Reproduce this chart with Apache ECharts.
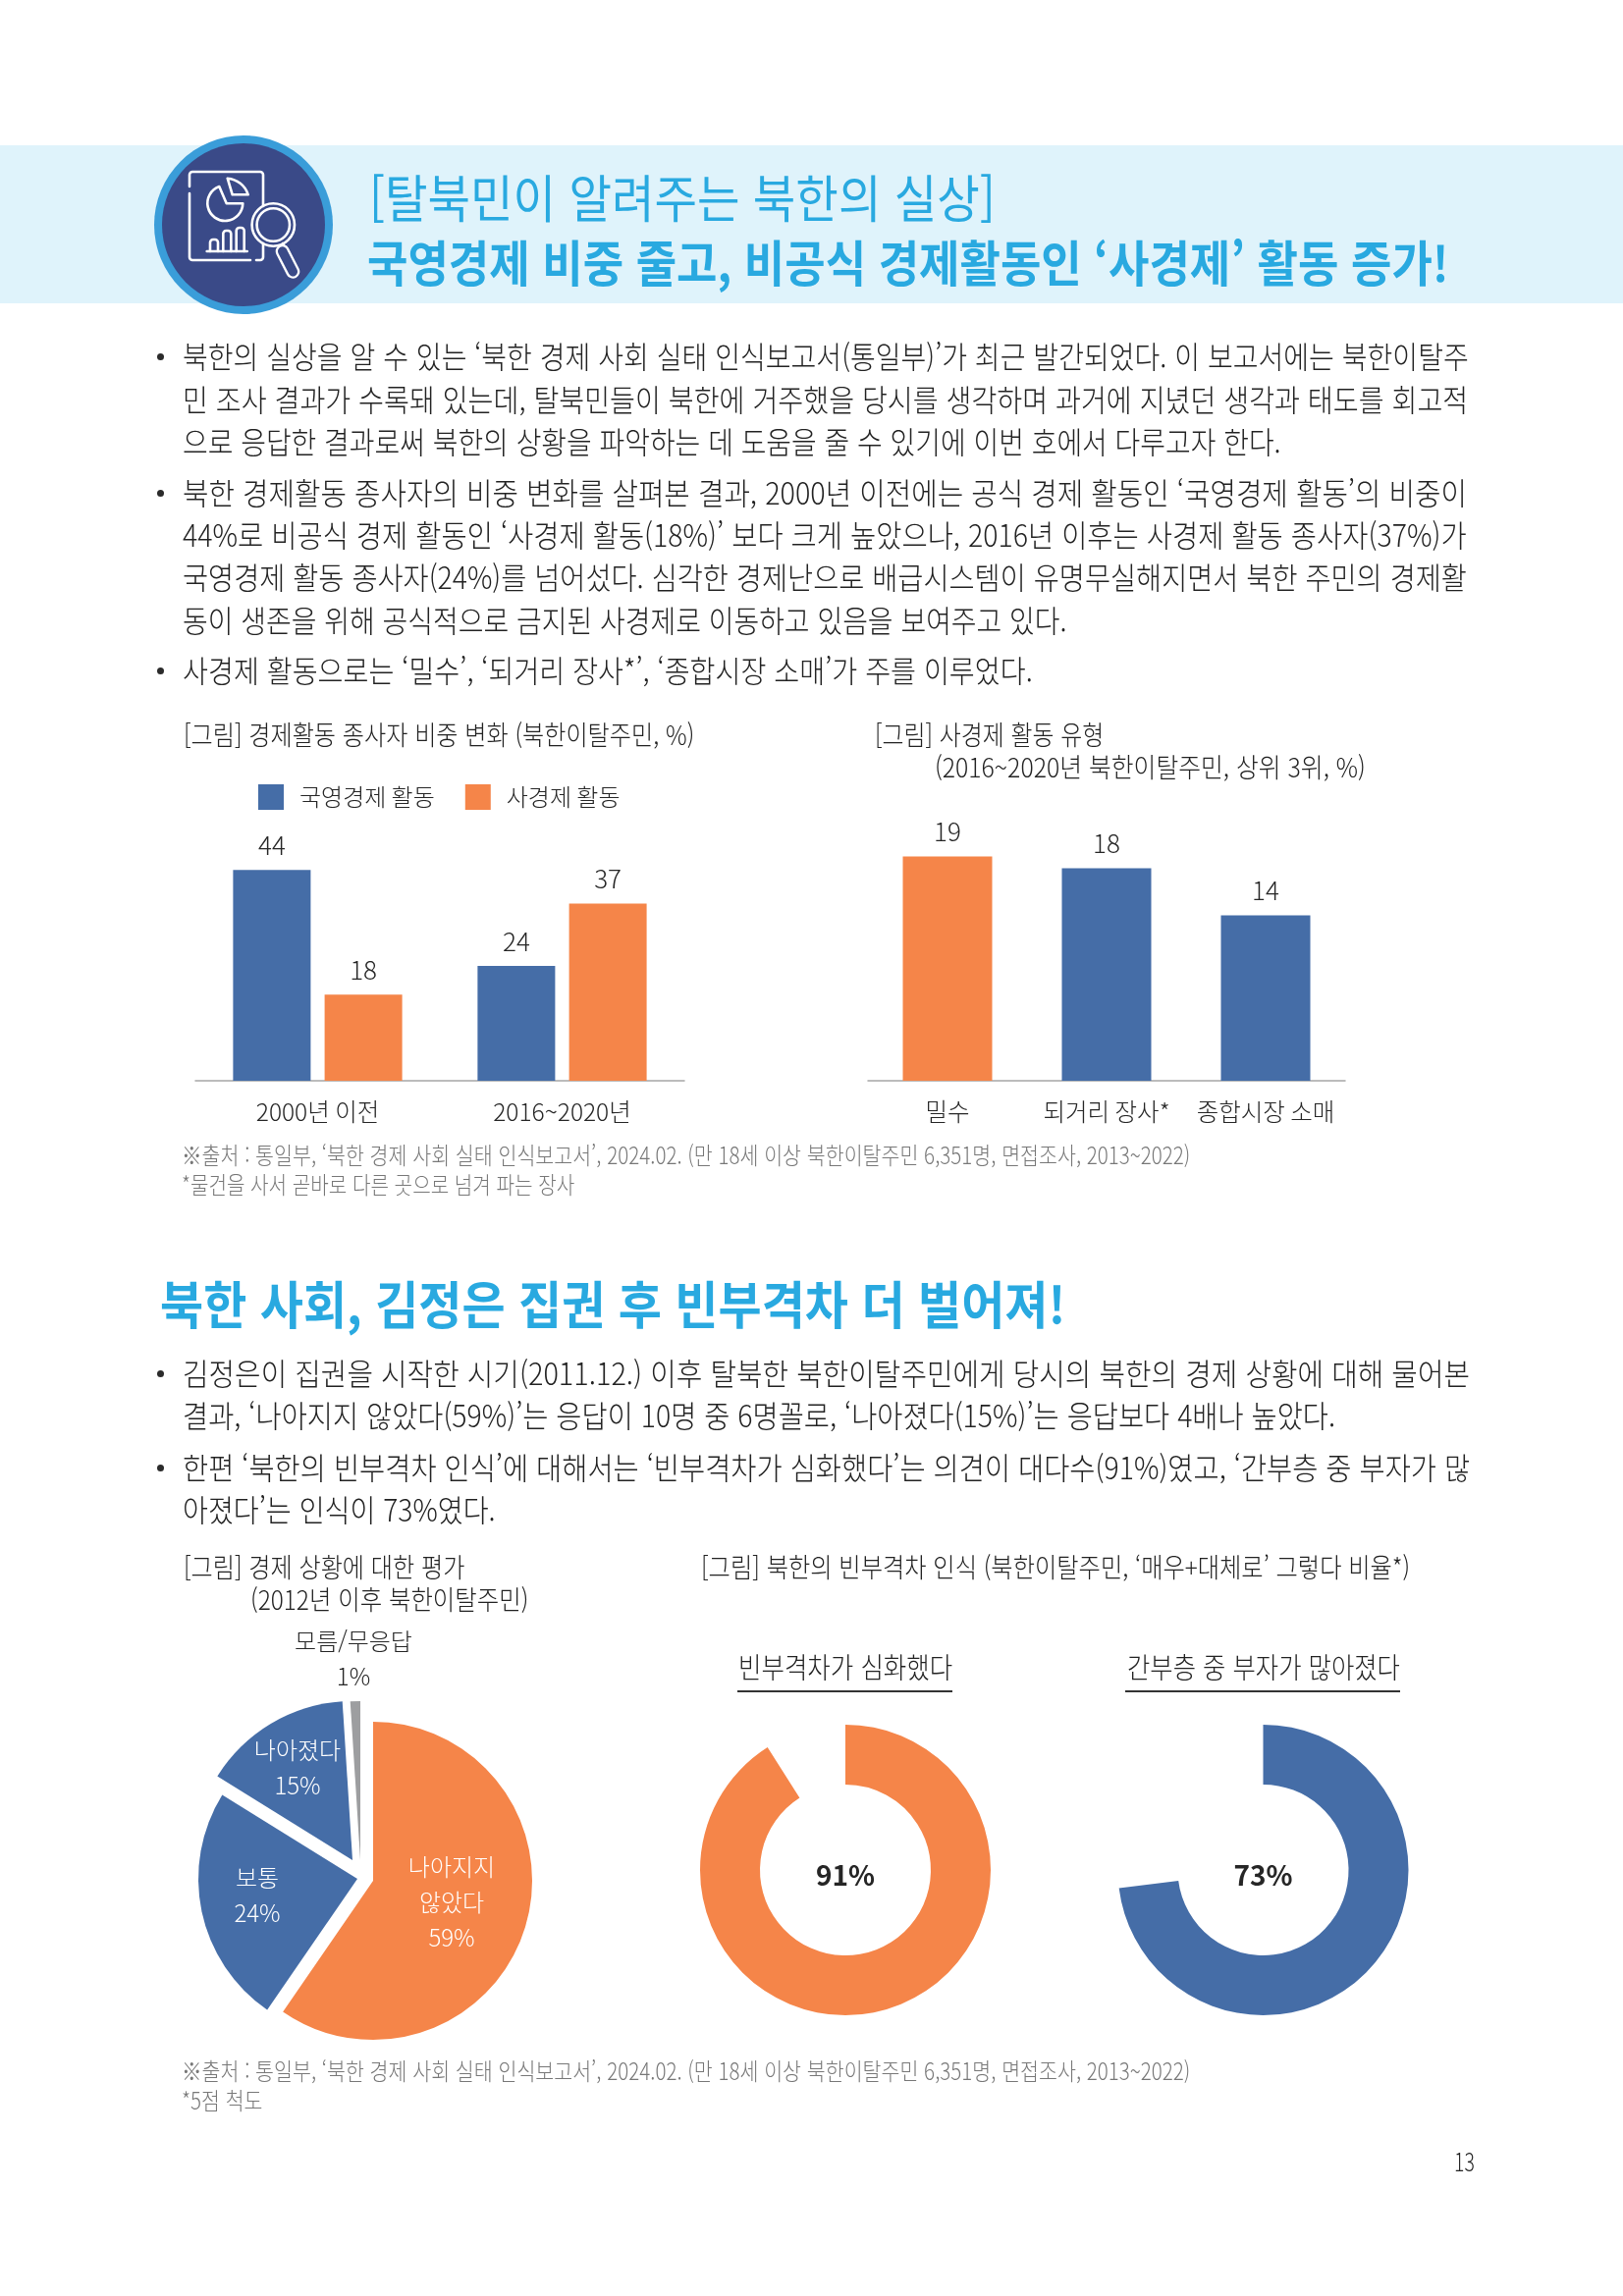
<!DOCTYPE html>
<html lang="ko">
<head>
<meta charset="utf-8">
<title>북한의 실상</title>
<script src="https://cdn.jsdelivr.net/npm/echarts@6/dist/echarts.min.js"></script>
<style>
  html, body { margin: 0; background: #fff; }
  #page { position: relative; width: 1653px; height: 2339px; overflow: hidden; font-family: "Noto Sans CJK KR", sans-serif; }
  #band { position: absolute; left: 0; top: 148px; width: 1653px; height: 161px; background: #dff3fb; }
  #icon { position: absolute; left: 0; top: 0; }
  #chart { position: absolute; left: 0; top: 0; width: 1653px; height: 2339px; }
  .line { position: absolute; white-space: pre; line-height: 1; transform-origin: left center; font-weight: 300; color: #222; }
  .rule { position: absolute; height: 2px; background: #333; }
  .dot { position: absolute; width: 7px; height: 7px; border-radius: 50%; background: #2b2b2b; }
</style>
</head>
<body>
<div id="page">
  <div id="band"></div>
  <svg id="icon" width="1653" height="340" viewBox="0 0 1653 340">
    <circle cx="248" cy="229" r="91" fill="#3a9dd9"/>
    <circle cx="248" cy="229" r="83" fill="#3a4a88"/>
    <g fill="none" stroke="#fff" stroke-width="2.6" stroke-linecap="round" stroke-linejoin="round">
      <path d="M193 190V178a3 3 0 0 1 3-3H265a3 3 0 0 1 3 3V210"/>
      <path d="M193 197V262a3 3 0 0 0 3 3H255"/>
      <path d="M268 248V262a3 3 0 0 1-3 3H261"/>
      <path d="M223.3 190A18 18 0 1 0 247.3 207.3L230.7 207.3Z"/>
      <path d="M231.7 181.7A24 24 0 0 1 252.7 198.3L236.7 198.3Z"/>
      <path d="M210.7 256H251.7"/>
      <path d="M214 256V247a3 3 0 0 1 3-3h2a3 3 0 0 1 3 3V256"/>
      <path d="M227.3 256V238a3 3 0 0 1 3-3h2a3 3 0 0 1 3 3V256"/>
      <path d="M240.7 256V235a3 3 0 0 1 3-3h2a3 3 0 0 1 3 3V256"/>
      <circle cx="278.3" cy="229" r="21.7"/>
      <circle cx="278.3" cy="229" r="16.7"/>
      <path d="M288 248L291 254"/>
      <path d="M287.7 256L298.3 276.7" stroke-width="14"/>
      <path d="M287.7 256L298.3 276.7" stroke-width="9.4" stroke="#3a4a88"/>
    </g>
  </svg>
  <div id="chart"></div>
</div>
<script>
// 차트 데이터
const periods = ["2000년 이전", "2016~2020년"];
const stateShare = [44, 24];
const privateShare = [18, 37];
const tradeTypes = ["밀수", "되거리 장사*", "종합시장 소매"];
const tradeShare = [19, 18, 14];
const outlookNames = ["나아지지\n않았다", "보통", "나아졌다", "모름/무응답"];
const outlookShare = [59, 24, 15, 1];
const gapShare = [91, 73];

const BLUE = "#456da7", ORANGE = "#f58549", GREY = "#9d9ea0", INK = "#262626", NOTE = "#777", SKY = "#29a9e0";
const FONT = '"Noto Sans CJK KR", sans-serif';

// 페이지 글자: [내용, 왼쪽, 세로 중심, 오른쪽 끝, 크기, 색, 굵기]
const textLines = [
  ["[탈북민이 알려주는 북한의 실상]", 376, 201, 1014, 52, SKY, 400],
  ["국영경제 비중 줄고, 비공식 경제활동인 ‘사경제’ 활동 증가!", 374, 266, 1476, 50, SKY, 700],
  ["북한의 실상을 알 수 있는 ‘북한 경제 사회 실태 인식보고서(통일부)’가 최근 발간되었다. 이 보고서에는 북한이탈주", 186, 363, 1496, 31],
  ["민 조사 결과가 수록돼 있는데, 탈북민들이 북한에 거주했을 당시를 생각하며 과거에 지녔던 생각과 태도를 회고적", 186, 407, 1495, 31],
  ["으로 응답한 결과로써 북한의 상황을 파악하는 데 도움을 줄 수 있기에 이번 호에서 다루고자 한다.", 186, 450, 1305, 31],
  ["북한 경제활동 종사자의 비중 변화를 살펴본 결과, 2000년 이전에는 공식 경제 활동인 ‘국영경제 활동’의 비중이", 186, 502, 1494, 31],
  ["44%로 비공식 경제 활동인 ‘사경제 활동(18%)’ 보다 크게 높았으나, 2016년 이후는 사경제 활동 종사자(37%)가", 186, 545, 1494, 31],
  ["국영경제 활동 종사자(24%)를 넘어섰다. 심각한 경제난으로 배급시스템이 유명무실해지면서 북한 주민의 경제활", 186, 588, 1494, 31],
  ["동이 생존을 위해 공식적으로 금지된 사경제로 이동하고 있음을 보여주고 있다.", 186, 632, 1087, 31],
  ["사경제 활동으로는 ‘밀수’, ‘되거리 장사*’, ‘종합시장 소매’가 주를 이루었다.", 186, 683, 1052, 31],
  ["[그림] 경제활동 종사자 비중 변화 (북한이탈주민, %)", 187, 749, 707, 27],
  ["[그림] 사경제 활동 유형", 891, 749, 1124, 27],
  ["(2016~2020년 북한이탈주민, 상위 3위, %)", 952, 782, 1391, 27],
  ["※출처 : 통일부, ‘북한 경제 사회 실태 인식보고서’, 2024.02. (만 18세 이상 북한이탈주민 6,351명, 면접조사, 2013~2022)", 185, 1177, 1212, 24, NOTE],
  ["*물건을 사서 곧바로 다른 곳으로 넘겨 파는 장사", 185, 1207, 585, 24, NOTE],
  ["북한 사회, 김정은 집권 후 빈부격차 더 벌어져!", 163, 1328, 1085, 52, SKY, 700],
  ["김정은이 집권을 시작한 시기(2011.12.) 이후 탈북한 북한이탈주민에게 당시의 북한의 경제 상황에 대해 물어본", 186, 1399, 1497, 31],
  ["결과, ‘나아지지 않았다(59%)’는 응답이 10명 중 6명꼴로, ‘나아졌다(15%)’는 응답보다 4배나 높았다.", 186, 1442, 1360, 31],
  ["한편 ‘북한의 빈부격차 인식’에 대해서는 ‘빈부격차가 심화했다’는 의견이 대다수(91%)였고, ‘간부층 중 부자가 많", 186, 1495, 1497, 31],
  ["아졌다’는 인식이 73%였다.", 186, 1538, 505, 31],
  ["[그림] 경제 상황에 대한 평가", 187, 1597, 473, 27],
  ["(2012년 이후 북한이탈주민)", 255, 1630, 538, 27],
  ["[그림] 북한의 빈부격차 인식 (북한이탈주민, ‘매우+대체로’ 그렇다 비율*)", 714, 1597, 1436, 27],
  ["빈부격차가 심화했다", 752, 1699, 970, 29],
  ["간부층 중 부자가 많아졌다", 1148, 1699, 1426, 29],
  ["※출처 : 통일부, ‘북한 경제 사회 실태 인식보고서’, 2024.02. (만 18세 이상 북한이탈주민 6,351명, 면접조사, 2013~2022)", 185, 2110, 1212, 24, NOTE],
  ["*5점 척도", 185, 2140, 267, 24, NOTE],
  ["13", 1481, 2202, 1502, 26]
];
const bulletRows = [363, 502, 683, 1399, 1495];
const ruleRows = [[751, 1722, 219], [1146, 1722, 280]];

const page = document.getElementById("page");

textLines.forEach(([text, x, y, end, size, color, weight]) => {
  const el = document.createElement("div");
  el.className = "line";
  el.textContent = text;
  el.style.left = x + "px";
  el.style.top = (y - size / 2 - 1.5) + "px";
  el.style.fontSize = size + "px";
  if (color) el.style.color = color;
  if (weight) el.style.fontWeight = weight;
  page.appendChild(el);
  // 원본 글꼴이 좁아서 줄 폭에 맞춰 가로로 줄인다
  el.style.transform = "scaleX(" + ((end - x) / el.offsetWidth) + ")";
});
bulletRows.forEach(y => {
  const el = document.createElement("div");
  el.className = "dot";
  el.style.left = "160px";
  el.style.top = (y - 3) + "px";
  page.appendChild(el);
});
ruleRows.forEach(([x, y, w]) => {
  const el = document.createElement("div");
  el.className = "rule";
  el.style.left = x + "px";
  el.style.top = y + "px";
  el.style.width = w + "px";
  page.appendChild(el);
});

const chart = echarts.init(document.getElementById("chart"), null, { renderer: "canvas" });

const axisBase = {
  type: "category",
  axisTick: { show: false },
  axisLine: { lineStyle: { color: "#a6a6a6", width: 1.5 } },
  axisLabel: { color: INK, fontFamily: FONT, fontSize: 24.5, fontWeight: 300, margin: 19, interval: 0 }
};
const valueAxisBase = { type: "value", min: 0, show: false };
const barLabel = { show: true, position: "top", distance: 12, color: INK, fontFamily: FONT, fontSize: 26, fontWeight: 300 };

// 조각마다 떨어진 거리가 달라서 시리즈를 따로 둔다
const sliceColors = [ORANGE, BLUE, BLUE, GREY];
const sliceCenters = [[380, 1916], [364, 1914], [359, 1895], [367, 1895]];
const sliceLabels = [[460, 1938, "#fff"], [262, 1931, "#fff"], [303, 1801, "#fff"], [360, 1690, INK]];

const outlookSeries = outlookShare.map((_, i) => ({
  type: "pie",
  name: outlookNames[i],
  silent: true,
  radius: 162,
  center: sliceCenters[i],
  startAngle: 90,
  avoidLabelOverlap: false,
  label: { show: false },
  labelLine: { show: false },
  labelLayout: { x: sliceLabels[i][0], y: sliceLabels[i][1], align: "center", verticalAlign: "middle" },
  data: outlookShare.map((v, j) => ({
    name: outlookNames[j],
    value: v,
    itemStyle: { color: j === i ? sliceColors[i] : "transparent" },
    label: j === i ? {
      show: true, position: "inside", formatter: "{b}\n{c}%", color: sliceLabels[i][2],
      fontFamily: FONT, fontSize: 24, fontWeight: 300, lineHeight: 36
    } : { show: false }
  }))
}));

const gapColors = [ORANGE, BLUE];
const gapCenters = [[861, 1905], [1286.5, 1905]];
const gapSeries = gapShare.map((v, i) => ({
  type: "pie",
  silent: true,
  radius: [87, 148],
  center: gapCenters[i],
  startAngle: 90,
  avoidLabelOverlap: false,
  labelLine: { show: false },
  labelLayout: { dy: 5 },
  data: [
    { value: v, itemStyle: { color: gapColors[i] },
      label: { show: true, position: "center", formatter: "{c}%", color: INK, fontFamily: FONT, fontSize: 28, fontWeight: 700 } },
    { value: 100 - v, itemStyle: { color: "transparent" }, label: { show: false } }
  ]
}));

chart.setOption({
  animation: false,
  backgroundColor: "transparent",
  legend: {
    left: 263, top: 799, padding: 0,
    icon: "rect", itemWidth: 26, itemHeight: 26, itemGap: 31,
    data: ["국영경제 활동", "사경제 활동"],
    textStyle: { color: INK, fontFamily: FONT, fontSize: 24, fontWeight: 300, padding: [0, 0, 0, 11] },
    selectedMode: false
  },
  grid: [
    { left: 199, top: 857, width: 498, height: 244 },
    { left: 884, top: 860.4, width: 486, height: 240.6 }
  ],
  xAxis: [
    { ...axisBase, gridIndex: 0, data: periods },
    { ...axisBase, gridIndex: 1, data: tradeTypes }
  ],
  yAxis: [
    { ...valueAxisBase, gridIndex: 0, max: 50 },
    { ...valueAxisBase, gridIndex: 1, max: 20 }
  ],
  series: [
    { type: "bar", name: "국영경제 활동", xAxisIndex: 0, yAxisIndex: 0, barWidth: 79, barGap: "18%", itemStyle: { color: BLUE }, label: barLabel, data: stateShare },
    { type: "bar", name: "사경제 활동", xAxisIndex: 0, yAxisIndex: 0, barWidth: 79, barGap: "18%", itemStyle: { color: ORANGE }, label: barLabel, data: privateShare },
    { type: "bar", xAxisIndex: 1, yAxisIndex: 1, barWidth: 91, label: barLabel,
      data: tradeShare.map((v, i) => ({ value: v, itemStyle: { color: i === 0 ? ORANGE : BLUE } })) },
    ...outlookSeries,
    ...gapSeries
  ]
});

window.addEventListener("resize", () => chart.resize());
</script>
</body>
</html>
